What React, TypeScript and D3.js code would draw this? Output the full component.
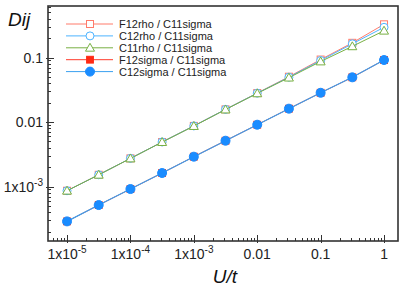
import { useEffect, useRef } from 'react';
import * as d3 from 'd3';

const uValues = [1e-5, 3.16e-5, 1e-4, 3.16e-4, 1e-3, 3.16e-3, 0.01, 0.0316, 0.1, 0.316, 1];

const f12rho = [8.6e-4, 1.52e-3, 2.73e-3, 4.9e-3, 8.7e-3, 0.0157, 0.0281, 0.0504, 0.093, 0.169, 0.327];
const c12rho = [8.6e-4, 1.52e-3, 2.73e-3, 4.9e-3, 8.7e-3, 0.0157, 0.028, 0.0496, 0.09, 0.163, 0.294];
const c11rho = [8.6e-4, 1.52e-3, 2.72e-3, 4.88e-3, 8.65e-3, 0.0156, 0.0278, 0.0487, 0.0867, 0.149, 0.26];
const f12sigma = [2.88e-4, 5.16e-4, 9.14e-4, 1.62e-3, 2.9e-3, 5.13e-3, 9.08e-3, 0.0161, 0.0284, 0.0493, 0.0915];
const c12sigma = [2.88e-4, 5.16e-4, 9.14e-4, 1.62e-3, 2.9e-3, 5.13e-3, 9.08e-3, 0.0161, 0.0284, 0.0493, 0.0915];

const seriesNames = ['F12rho / C11sigma', 'C12rho / C11sigma', 'C11rho / C11sigma', 'F12sigma / C11sigma', 'C12sigma / C11sigma'];

const xTicks = [1e-5, 1e-4, 1e-3, 0.01, 0.1, 1];
const xTickLabels = [['1x10', '-5'], ['1x10', '-4'], ['1x10', '-3'], ['0.01', ''], ['0.1', ''], ['1', '']];
const yTicks = [1e-3, 0.01, 0.1];
const yTickLabels = [['1x10', '-3'], ['0.01', ''], ['0.1', '']];

type Series = { name: string; values: number[]; line: string; fill: string; stroke: string; shape: 'square' | 'circle' | 'triangle' };

const series: Series[] = [
  { name: seriesNames[0], values: f12rho, line: '#ff7b6b', fill: '#fff', stroke: '#ff7b6b', shape: 'square' },
  { name: seriesNames[1], values: c12rho, line: '#4db3ff', fill: '#fff', stroke: '#4db3ff', shape: 'circle' },
  { name: seriesNames[2], values: c11rho, line: '#78b043', fill: '#fff', stroke: '#78b043', shape: 'triangle' },
  { name: seriesNames[3], values: f12sigma, line: '#ff3b2b', fill: '#ff2a14', stroke: '#ff2a14', shape: 'square' },
  { name: seriesNames[4], values: c12sigma, line: '#3aa0f0', fill: '#1a8cff', stroke: '#1a8cff', shape: 'circle' },
];

const FONT = 'Liberation Sans, Arial, Helvetica, sans-serif';

function drawMarker(g: d3.Selection<SVGGElement, unknown, null, undefined>, s: Series, cx: number, cy: number) {
  const filled = s.fill !== '#fff';
  if (s.shape === 'square') {
    const h = filled ? 3.4 : 3.5;
    g.append('rect').attr('x', cx - h).attr('y', cy - h).attr('width', 2 * h).attr('height', 2 * h)
      .attr('fill', s.fill).attr('stroke', s.stroke).attr('stroke-width', 1);
  } else if (s.shape === 'circle') {
    g.append('circle').attr('cx', cx).attr('cy', cy).attr('r', filled ? 4.5 : 4)
      .attr('fill', s.fill).attr('stroke', s.stroke).attr('stroke-width', 1);
  } else {
    const r = 4.5;
    g.append('path')
      .attr('d', `M${cx},${cy - r}L${cx + r},${cy + r * 0.75}L${cx - r},${cy + r * 0.75}Z`)
      .attr('fill', s.fill).attr('stroke', s.stroke).attr('stroke-width', 1);
  }
}

function addTickLabel(
  sel: d3.Selection<SVGGElement, unknown, null, undefined>,
  x: number, y: number, anchor: string, label: string[]
) {
  const t = sel.append('text')
    .attr('x', x).attr('y', y)
    .attr('text-anchor', anchor)
    .style('font-family', FONT)
    .style('font-size', '14px')
    .style('fill', '#222');
  t.append('tspan').text(label[0]);
  if (label[1]) {
    t.append('tspan').attr('dy', -6).style('font-size', '10px').text(label[1]);
  }
}

export default function App() {
  const svgRef = useRef<SVGSVGElement>(null);

  useEffect(() => {
    if (!svgRef.current) return;
    const width = 409;
    const height = 289;
    const margin = { top: 6, right: 11, bottom: 48, left: 48 };

    const svg = d3.select(svgRef.current);
    svg.selectAll('*').remove();
    svg.attr('width', width).attr('height', height);

    const x = d3.scaleLog().domain([5.01e-6, 1.66]).range([margin.left, width - margin.right]);
    const y = d3.scaleLog().domain([1.43e-4, 0.629]).range([height - margin.bottom, margin.top]);

    const root = svg.append('g');
    const x0 = margin.left;
    const x1 = width - margin.right;
    const y0 = height - margin.bottom;
    const y1 = margin.top;

    // minor / major ticks
    const ticks = root.append('g').attr('stroke', '#333').attr('stroke-width', 1);
    const [xd0, xd1] = x.domain();
    for (let e = -6; e <= 0; e++) {
      for (let m = 1; m <= 9; m++) {
        const v = m * Math.pow(10, e);
        if (v < xd0 || v > xd1) continue;
        const px = Math.round(x(v)) + 0.5;
        const major = m === 1;
        ticks.append('line').attr('x1', px).attr('x2', px)
          .attr('y1', y0 + (major ? 2 : 0)).attr('y2', y0 - (major ? 6 : 3));
      }
    }
    const [yd0, yd1] = y.domain();
    for (let e = -4; e <= 0; e++) {
      for (let m = 1; m <= 9; m++) {
        const v = m * Math.pow(10, e);
        if (v < yd0 || v > yd1) continue;
        const py = Math.round(y(v)) + 0.5;
        const major = m === 1;
        ticks.append('line').attr('y1', py).attr('y2', py)
          .attr('x1', x0 - (major ? 2 : 0)).attr('x2', x0 + (major ? 6 : 3));
      }
    }

    // tick labels
    xTicks.forEach((v, i) => addTickLabel(root, x(v), y0 + 18, 'middle', xTickLabels[i]));
    yTicks.forEach((v, i) => addTickLabel(root, x0 - 5, y(v) + 5, 'end', yTickLabels[i]));

    // series
    const line = d3.line<number>().x((_, i) => x(uValues[i])).y(d => y(d));
    const drawOrder = [3, 4, 0, 1, 2];
    drawOrder.forEach(k => {
      const s = series[k];
      const g = root.append('g');
      g.append('path').attr('d', line(s.values) as string)
        .attr('fill', 'none').attr('stroke', s.line).attr('stroke-width', k === 4 ? 1.2 : 1);
      s.values.forEach((v, i) => drawMarker(g, s, x(uValues[i]), y(v)));
    });

    // frame
    root.append('rect').attr('x', x0).attr('y', y1).attr('width', x1 - x0).attr('height', y0 - y1)
      .attr('fill', 'none').attr('stroke', '#333').attr('stroke-width', 1.6);

    // legend
    const legend = root.append('g');
    series.forEach((s, i) => {
      const ly = 24 + i * 11.9;
      legend.append('line').attr('x1', 66).attr('x2', 113).attr('y1', ly).attr('y2', ly)
        .attr('stroke', s.line).attr('stroke-width', 1);
      drawMarker(legend, s, 90, ly);
      legend.append('text').attr('x', 119).attr('y', ly + 4)
        .style('font-family', FONT).style('font-size', '11px').style('fill', '#222')
        .text(s.name);
    });

    // axis titles
    root.append('text').attr('x', 225).attr('y', 283).attr('text-anchor', 'middle')
      .style('font-family', FONT).style('font-size', '19px').style('font-style', 'italic').style('fill', '#111')
      .text('U/t');
    root.append('text').attr('x', 8).attr('y', 26)
      .style('font-family', FONT).style('font-size', '19px').style('font-style', 'italic').style('fill', '#111')
      .text('Dij');
  }, []);

  return (
    <div style={{ position: 'absolute', left: 0, top: 0 }}>
      <svg ref={svgRef} style={{ display: 'block' }}></svg>
    </div>
  );
}
